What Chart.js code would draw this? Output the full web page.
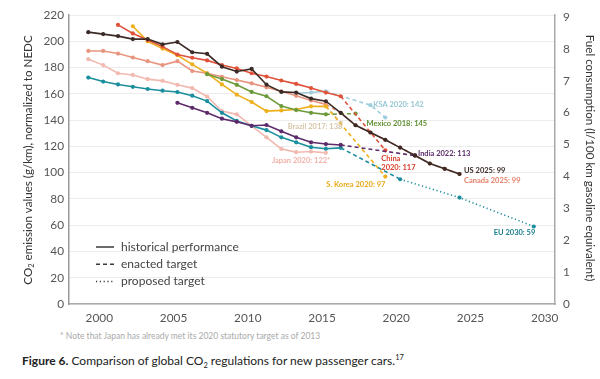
<!DOCTYPE html>
<html><head><meta charset="utf-8">
<script src="https://cdn.jsdelivr.net/npm/chart.js@4.4.1/dist/chart.umd.min.js"></script>
<style>
html,body{margin:0;padding:0;background:#fff;}
#wrap{position:relative;width:600px;height:379px;overflow:hidden;background:#fff;}
#c{position:absolute;left:0;top:0;}
.note{position:absolute;left:60px;top:331px;font:8.5px Lato,"Open Sans",sans-serif;color:#aaa;white-space:nowrap;}
.cap{position:absolute;left:22px;top:353px;font:12px Lato,"Open Sans",sans-serif;color:#222;white-space:nowrap;line-height:15px;}
.cap sub,.cap sup{font-size:7.5px;line-height:0;}
</style></head><body>
<div id="wrap"><canvas id="c" width="600" height="330"></canvas>
<div class="note">* Note that Japan has already met its 2020 statutory target as of 2013</div>
<div class="cap"><b>Figure 6.</b> Comparison of global CO<sub>2</sub> regulations for new passenger cars.<sup>17</sup></div>
</div>
<script>
// ---- data (g/km, NEDC) ----
const xTicks = [2000, 2005, 2010, 2015, 2020, 2025, 2030];
const yTicks = [0, 20, 40, 60, 80, 100, 120, 140, 160, 180, 200, 220];
const fuelTicks = [0, 1, 2, 3, 4, 5, 6, 7, 8, 9];

const usYears = [2000,2001,2002,2003,2004,2005,2006,2007,2008,2009,2010,2011,2012,2013,2014,2015,2016,2017,2018,2019,2020,2021,2022,2023,2024,2025];
const usCO2 = [207,205.5,204,201.7,201.7,197.7,199.5,191.7,190.5,180.7,177,179,167,161.5,161,156.4,154.4,145.6,136.1,130.6,125,119.1,113.1,107,102.9,99];

const canadaYears = [2000,2001,2002,2003,2004,2005,2006,2007,2008,2009,2010,2011,2012,2013,2014,2015,2016];
const canadaCO2 = [192.7,192.7,190.7,187.7,184.9,181.9,184.9,177.4,175.7,173,170.5,168,165,162,158.5,155,152];
const canadaTargetYears = [2016,2017,2018,2019,2020,2021,2022,2023,2024,2025];
const canadaTargetCO2 = [152,145.6,136.1,130.6,125,119.1,113.1,107,102.9,99];

const chinaYears = [2002,2003,2004,2005,2006,2007,2008,2009,2010,2011,2012,2013,2014,2015,2016,2017];
const chinaCO2 = [212.5,206,201,196,190,187.5,185.5,182,179.4,175.7,173.2,170.2,167.6,164.4,161,158.2];
const chinaTargetYears = [2017,2020];
const chinaTargetCO2 = [158.2,117];

const koreaYears = [2003,2004,2005,2006,2007,2008,2009,2010,2011,2012,2013,2014,2015,2016];
const koreaCO2 = [211.5,200,194.5,189.4,182.5,175.7,167.2,159.4,153.8,146.9,147.4,148.1,150.5,150.5];
const koreaTargetYears = [2016,2020];
const koreaTargetCO2 = [150.5,97];

const mexicoYears = [2008,2009,2010,2011,2012,2013,2014,2015,2016];
const mexicoCO2 = [175,171.3,166.9,161.5,158.2,150.7,147.7,145.6,144.4];
const mexicoTargetYears = [2016,2018];
const mexicoTargetCO2 = [144.4,145];

const indiaYears = [2006,2007,2008,2009,2010,2011,2012,2013,2014,2015,2016,2017];
const indiaCO2 = [153.2,149.4,145.6,141.1,138.7,135.7,136.3,131.5,126.9,123.1,121.8,121.1];
const indiaTargetYears = [2017,2022];
const indiaTargetCO2 = [121.1,113];

const euYears = [2000,2001,2002,2003,2004,2005,2006,2007,2008,2009,2010,2011,2012,2013,2014,2015,2016,2017];
const euCO2 = [172.4,169.4,167.2,165.4,163.7,162.4,161.4,158.6,154.5,145.6,139.4,135.7,132.4,126.9,123.1,119.4,118.2,118.9];
const euTargetYears = [2017,2021];
const euTargetCO2 = [118.9,95];
const euProposedYears = [2021,2025,2030];
const euProposedCO2 = [95,81,59];

const japanYears = [2000,2001,2002,2003,2004,2005,2006,2007,2008,2009,2010,2011,2012,2013,2014,2015,2016];
const japanCO2 = [186.4,181.9,175.7,174.4,171.2,169.9,166.9,164.4,158,146.9,144.4,135.6,126.9,118.1,115.6,116.1,115.1];

const ksaYears = [2014,2015,2016];
const ksaCO2 = [160.5,161,162];
const ksaTargetYears = [2016,2019,2020];
const ksaTargetCO2 = [162,151.4,142];

const brazilTargetYears = [2016,2017];
const brazilTargetCO2 = [151,138];

// ---- styles ----
const C = {
  us:'#3b2a25', canada:'#e8957f', china:'#e0523a', korea:'#efb01e', mexico:'#6c9a3a',
  india:'#5d2b6b', eu:'#1b8e9e', japan:'#f2b9b0', ksa:'#9fcfdc', brazil:'#d9cab0'
};
const L = {
  us:'#3b2a25', canada:'#e8806a', china:'#d9402c', korea:'#e8a817', mexico:'#5e8e30',
  india:'#5a2a68', eu:'#1a7d8c', japan:'#f0b0a8', ksa:'#96c6d4', brazil:'#d6c6a8'
};
const SOLID = [], DASH = [4,3], DOT = [1.2,2.6];

function ds(xs, ys, color, dash, skipFirst){
  return {
    data: xs.map((x,i)=>({x:x, y:ys[i]})),
    borderColor: color, backgroundColor: color,
    pointBackgroundColor: color, pointBorderWidth: 0,
    pointRadius: xs.map((x,i)=> (skipFirst && i===0) ? 0 : 2.1),
    borderWidth: 1.6, borderDash: dash, tension: 0, fill: false
  };
}

const datasets = [
  ds(usYears, usCO2, C.us, SOLID, false),
  ds(indiaTargetYears, indiaTargetCO2, C.india, DASH, true),
  ds(indiaYears, indiaCO2, C.india, SOLID, false),
  ds(euYears, euCO2, C.eu, SOLID, false),
  ds(euTargetYears, euTargetCO2, C.eu, DASH, true),
  ds(euProposedYears, euProposedCO2, C.eu, DOT, true),
  ds(chinaYears, chinaCO2, C.china, SOLID, false),
  ds(chinaTargetYears, chinaTargetCO2, C.china, DASH, true),
  ds(mexicoYears, mexicoCO2, C.mexico, SOLID, false),
  ds(mexicoTargetYears, mexicoTargetCO2, C.mexico, DASH, true),
  ds(koreaYears, koreaCO2, C.korea, SOLID, false),
  ds(koreaTargetYears, koreaTargetCO2, C.korea, DASH, true),
  ds(canadaYears, canadaCO2, C.canada, SOLID, false),
  ds(canadaTargetYears, canadaTargetCO2, C.canada, DASH, true),
  ds(japanYears, japanCO2, C.japan, SOLID, false),
  ds(ksaYears, ksaCO2, C.ksa, SOLID, false),
  ds(ksaTargetYears, ksaTargetCO2, C.ksa, DASH, true),
  ds(brazilTargetYears, brazilTargetCO2, C.brazil, DASH, true)
];

// annotation labels: anchored to a data point, offset in px
const labels = [
  {t:'KSA 2020: 142', at:[2020,142], dx:-12, dy:-13, c:L.ksa},
  {t:'Mexico 2018: 145', at:[2018,145], dx:11, dy:10.5, c:L.mexico},
  {t:'Brazil 2017: 138', at:[2017,138], dx:-53, dy:4, c:L.brazil},
  {t:'India 2022: 113', at:[2022,113], dx:3, dy:-2.5, c:L.india},
  {t:'China', at:[2020,117], dx:-4, dy:8.5, c:L.china},
  {t:'2020: 117', at:[2020,117], dx:-4, dy:17, c:L.china},
  {t:'Japan 2020: 122*', at:[2016,115.1], dx:-54, dy:7.5, c:L.japan},
  {t:'US 2025: 99', at:[2025,99], dx:4.5, dy:-3, c:L.us},
  {t:'Canada 2025: 99', at:[2025,99], dx:4.5, dy:7, c:L.canada},
  {t:'S. Korea 2020: 97', at:[2020,97], dx:-59, dy:8, c:L.korea},
  {t:'EU 2030: 59', at:[2030,59], dx:-40, dy:6.5, c:L.eu}
];

const FONT = 'Lato, "Open Sans", sans-serif';
const AREA = {left: 69, top: 11, right: 555, bottom: 304};

const decor = {
  id:'decor',
  afterDraw(chart){
    const ctx = chart.ctx, xs = chart.scales.x, ys = chart.scales.y, a = chart.chartArea;
    ctx.save();
    ctx.font = 'bold 7.5px ' + FONT;
    ctx.textBaseline = 'middle'; ctx.textAlign = 'left';
    labels.forEach(l=>{
      ctx.fillStyle = l.c;
      ctx.fillText(l.t, xs.getPixelForValue(l.at[0]) + l.dx, ys.getPixelForValue(l.at[1]) + l.dy);
    });
    const lg = [['historical performance', SOLID], ['enacted target', DASH], ['proposed target', DOT]];
    ctx.font = '12px ' + FONT;
    lg.forEach((e,i)=>{
      const y = 247 + i*17.3;
      ctx.beginPath(); ctx.setLineDash(e[1]); ctx.strokeStyle = '#3a3a3a'; ctx.lineWidth = 1.5;
      ctx.moveTo(a.left + 27, y); ctx.lineTo(a.left + 45, y); ctx.stroke();
      ctx.setLineDash([]);
      ctx.fillStyle = '#444'; ctx.fillText(e[0], a.left + 52, y);
    });
    ctx.fillStyle = '#333';
    ctx.save();
    ctx.translate(28, 160); ctx.rotate(-Math.PI/2);
    const f1 = '11.6px ' + FONT, f2 = '7.6px ' + FONT;
    ctx.font = f1; const wCO = ctx.measureText('CO').width;
    const rest = ' emission values (g/km), normalized to NEDC';
    const wRest = ctx.measureText(rest).width;
    ctx.font = f2; const w2 = ctx.measureText('2').width;
    let x0 = -(wCO + w2 + wRest)/2;
    ctx.font = f1; ctx.fillText('CO', x0, 0);
    ctx.font = f2; ctx.fillText('2', x0 + wCO, 3.5);
    ctx.font = f1; ctx.fillText(rest, x0 + wCO + w2, 0);
    ctx.restore();
    ctx.save();
    ctx.translate(590, 158); ctx.rotate(Math.PI/2);
    ctx.font = '11.6px ' + FONT; ctx.textAlign = 'center';
    ctx.fillText('Fuel consumption (l/100 km gasoline equivalent)', 0, 0);
    ctx.restore();
    ctx.restore();
  }
};

const tickFont = {family: FONT, size: 11.8};

const chart = new Chart(document.getElementById('c'), {
  type: 'line',
  data: {datasets},
  options: {
    responsive: false, animation: false,
    layout: {padding: {top: 11, left: 0, right: 0, bottom: 0}},
    plugins: {legend: {display: false}, tooltip: {enabled: false}},
    scales: {
      x: {
        type: 'linear', min: 1998.7, max: 2031.43,
        afterBuildTicks: s => { s.ticks = xTicks.map(v=>({value:v})); },
        afterFit: s => { s.height = 26; },
        ticks: {font: tickFont, color: '#555', padding: 7, labelOffset: 11, maxRotation: 0, autoSkip: false, callback: v => String(v)},
        grid: {display: false, drawTicks: false},
        border: {display: true, color: '#aaa', width: 1.5}
      },
      y: {
        position: 'left', min: 0, max: 220,
        afterBuildTicks: s => { s.ticks = yTicks.map(v=>({value:v})); },
        afterFit: s => { s.width = 69; },
        ticks: {font: tickFont, color: '#555', padding: 5},
        grid: {color: '#ececec', lineWidth: 1, drawTicks: false},
        border: {display: true, color: '#999', width: 1.5}
      },
      y2: {
        position: 'right', min: 0, max: 9.06,
        afterBuildTicks: s => { s.ticks = fuelTicks.map(v=>({value:v})); },
        afterFit: s => { s.width = 45; },
        ticks: {font: tickFont, color: '#555', padding: 8},
        grid: {display: false, drawTicks: false},
        border: {display: true, color: '#aaa', width: 1.5}
      }
    }
  },
  plugins: [decor]
});

// nudge the layout padding so the plot area lands on the reference frame
const pad = chart.options.layout.padding;
for (let k = 0; k < 3; k++) {
  const a = chart.chartArea;
  pad.top += AREA.top - a.top;
  pad.left += AREA.left - a.left;
  pad.right += a.right - AREA.right;
  pad.bottom += a.bottom - AREA.bottom;
  chart.update('none');
}
</script>
</body></html>
